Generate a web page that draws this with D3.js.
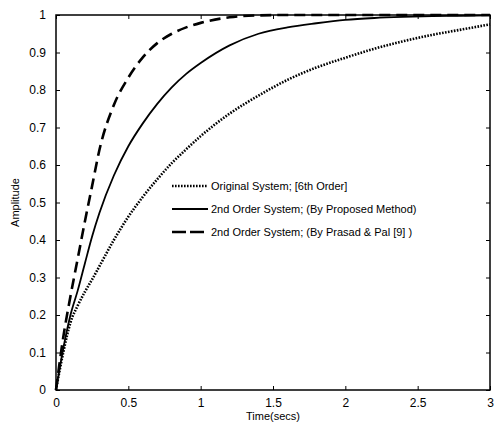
<!DOCTYPE html>
<html>
<head>
<meta charset="utf-8">
<script src="https://cdn.jsdelivr.net/npm/d3@7"></script>
<style>
  body { margin: 0; background: #fff; }
  svg { font-family: "Liberation Sans", Arial, sans-serif; }
  .tick text { font-size: 12px; fill: #000; }
</style>
</head>
<body>
<svg id="chart" width="497" height="427"></svg>
<script>
// time samples (secs)
const time = [0, 0.05, 0.1, 0.15, 0.2, 0.25, 0.3, 0.4, 0.5, 0.6, 0.7, 0.8, 0.9, 1.0,
              1.2, 1.4, 1.6, 1.8, 2.0, 2.2, 2.4, 2.6, 2.8, 3.0];
// Original System; [6th Order]
const original = [0, 0.10, 0.18, 0.225, 0.262, 0.295, 0.33, 0.40, 0.462, 0.515, 0.562, 0.605, 0.642, 0.677,
                  0.737, 0.785, 0.827, 0.86, 0.886, 0.91, 0.93, 0.947, 0.961, 0.975];
// 2nd Order System; (By Proposed Method)
const proposed = [0, 0.11, 0.20, 0.265, 0.338, 0.41, 0.472, 0.572, 0.65, 0.711, 0.763, 0.807, 0.843, 0.872,
                  0.919, 0.95, 0.967, 0.978, 0.987, 0.992, 0.995, 0.997, 0.998, 0.999];
// 2nd Order System; (By Prasad & Pal [9])
const prasad = [0, 0.14, 0.25, 0.35, 0.45, 0.545, 0.64, 0.76, 0.833, 0.887, 0.925, 0.95, 0.967, 0.979,
                0.994, 0.999, 1.0, 1.0, 1.0, 1.0, 1.0, 1.0, 1.0, 1.0];

const xTicks = [0, 0.5, 1, 1.5, 2, 2.5, 3];
const yTicks = [0, 0.1, 0.2, 0.3, 0.4, 0.5, 0.6, 0.7, 0.8, 0.9, 1];
const legendLabels = [
  'Original System; [6th Order]',
  '2nd Order System; (By Proposed Method)',
  '2nd Order System; (By Prasad & Pal [9] )'
];

const margin = { top: 15, right: 7, bottom: 37, left: 56 };
const W = 497, H = 427;
const w = W - margin.left - margin.right;
const h = H - margin.top - margin.bottom;

const x = d3.scaleLinear().domain([0, 3]).range([0, w]);
const y = d3.scaleLinear().domain([0, 1]).range([h, 0]);

const svg = d3.select('#chart');
const g = svg.append('g').attr('transform', `translate(${margin.left},${margin.top})`);

// axes, ticks inward (matlab style)
const tk = 4;
g.append('g').attr('transform', `translate(0,${h})`)
  .call(d3.axisBottom(x).tickValues(xTicks).tickSize(-tk).tickPadding(8).tickFormat(d3.format('')))
  .call(a => a.select('.domain').remove());
g.append('g')
  .call(d3.axisTop(x).tickValues(xTicks).tickSize(-tk).tickFormat(''))
  .call(a => a.select('.domain').remove());
g.append('g')
  .call(d3.axisLeft(y).tickValues(yTicks).tickSize(-tk).tickPadding(10).tickFormat(d3.format('')))
  .call(a => a.select('.domain').remove());
g.append('g').attr('transform', `translate(${w},0)`)
  .call(d3.axisRight(y).tickValues(yTicks).tickSize(-tk).tickFormat(''))
  .call(a => a.select('.domain').remove());
g.selectAll('.tick line').attr('stroke', '#000');

g.append('rect')
  .attr('width', w).attr('height', h)
  .attr('fill', 'none').attr('stroke', '#000').attr('stroke-width', 1.5);

// curves
const series = [
  { vals: original, width: 2.6, dash: '1.6,1.4' },
  { vals: proposed, width: 1.8, dash: null },
  { vals: prasad, width: 2.6, dash: '11,6' }
];
const line = d3.line().x(d => x(d[0])).y(d => y(d[1])).curve(d3.curveMonotoneX);

series.forEach(s => {
  g.append('path')
    .datum(time.map((t, i) => [t, s.vals[i]]))
    .attr('d', line)
    .attr('fill', 'none')
    .attr('stroke', '#000')
    .attr('stroke-width', s.width)
    .attr('stroke-dasharray', s.dash);
});

// legend
const lg = svg.append('g').attr('transform', 'translate(172,186)');
series.forEach((s, i) => {
  const row = lg.append('g').attr('transform', `translate(0,${i * 23})`);
  row.append('line')
    .attr('x1', 0).attr('x2', 36)
    .attr('stroke', '#000')
    .attr('stroke-width', s.width)
    .attr('stroke-dasharray', s.dash ? (i === 2 ? '14,4' : s.dash) : null);
  row.append('text')
    .attr('x', 39).attr('y', 4)
    .attr('font-size', 11)
    .text(legendLabels[i]);
});

// axis titles
svg.append('text')
  .attr('x', margin.left + w / 2).attr('y', 420)
  .attr('text-anchor', 'middle').attr('font-size', 11)
  .text('Time(secs)');
svg.append('text')
  .attr('transform', `translate(19,${margin.top + h / 2}) rotate(-90)`)
  .attr('text-anchor', 'middle').attr('font-size', 11)
  .text('Amplitude');
</script>
</body>
</html>
